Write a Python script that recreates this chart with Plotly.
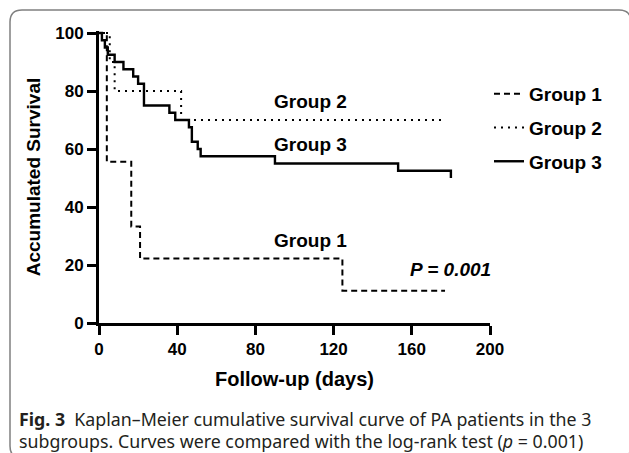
import plotly.graph_objects as go

# ---------------- data ----------------
g1_days = [0, 4, 16.5, 21, 124.5, 177]
g1_surv = [100, 55.6, 33.3, 22.2, 11.1, 11.1]

g2_days = [0, 5.5, 8, 42, 177]
g2_surv = [100, 90, 80, 70, 70]

g3_days = [0, 1.5, 3, 4.5, 8, 12.5, 17.5, 20, 23, 36, 39, 46, 47.5, 50.5, 52, 90, 153, 180]
g3_surv = [100, 97.5, 95, 92.5, 90, 87.5, 85, 82.5, 75, 72.5, 70, 67.5, 62.5, 60, 57.5, 55, 52.5, 50]

group_names = ["Group 1", "Group 2", "Group 3"]
x_ticks = [0, 40, 80, 120, 160, 200]
y_ticks = [0, 20, 40, 60, 80, 100]

caption_1 = "<b>Fig. 3</b>  Kaplan–Meier cumulative survival curve of PA patients in the 3"
caption_2 = "subgroups. Curves were compared with the log-rank test (<i>p</i> = 0.001)"

# ---------------- layout geometry ----------------
W, H = 629, 453
ML, MR, MT, MB = 99, 139, 31, 130
PW, PH = W - ML - MR, H - MT - MB
Y_TOP = PH / 2.9  # 2.9 px per survival unit

def px(xp):
    return (xp - ML) / PW

def py(yp):
    return (H - MB - yp) / PH

FONT = "Liberation Sans, Arial, sans-serif"

fig = go.Figure()
styles = [dict(dash="6px,4px", width=2), dict(dash="2px,5px", width=2), dict(dash="solid", width=2.4)]
for name, xs, ys, st, grp in zip(group_names, [g1_days, g2_days, g3_days],
                                 [g1_surv, g2_surv, g3_surv], styles, ["a", "b", "c"]):
    fig.add_trace(go.Scatter(x=xs, y=ys, mode="lines", name=name, legendgroup=grp,
                             line=dict(shape="hv", color="black", **st)))

# rounded frame
x0, y0, x1, y1, r = px(10), py(10), px(631), py(458), 12
rx, ry = r / PW, r / PH
path = (f"M{x0+rx},{y0} L{x1-rx},{y0} Q{x1},{y0} {x1},{y0-ry} "
        f"L{x1},{y1+ry} Q{x1},{y1} {x1-rx},{y1} L{x0+rx},{y1} Q{x0},{y1} {x0},{y1+ry} "
        f"L{x0},{y0-ry} Q{x0},{y0} {x0+rx},{y0} Z")
fig.add_shape(type="path", path=path, xref="paper", yref="paper",
              line=dict(color="#808080", width=1.5), layer="below")

ann_font = dict(family=FONT, size=19, color="black")
fig.add_annotation(x=108, y=76.5, text="<b>Group 2</b>", showarrow=False, font=ann_font)
fig.add_annotation(x=108, y=61.5, text="<b>Group 3</b>", showarrow=False, font=ann_font)
fig.add_annotation(x=108, y=28.5, text="<b>Group 1</b>", showarrow=False, font=ann_font)
fig.add_annotation(x=180, y=18.5, text="<b><i>P = 0.001</i></b>", showarrow=False, font=ann_font)

cap_font = dict(family="Noto Sans, Open Sans, sans-serif", size=17.8, color="#231f20")
fig.add_annotation(x=px(17), y=py(419), xref="paper", yref="paper", xanchor="left",
                   yanchor="middle", text=caption_1, showarrow=False, font=cap_font)
fig.add_annotation(x=px(17), y=py(441), xref="paper", yref="paper", xanchor="left",
                   yanchor="middle", text=caption_2, showarrow=False, font=cap_font)

axis_common = dict(showline=True, linewidth=3, linecolor="black", ticks="outside",
                   ticklen=9, tickwidth=3, tickcolor="black", showgrid=False, zeroline=False,
                   tickfont=dict(family=FONT, size=17, color="black"))

fig.update_xaxes(range=[0, 200], tickvals=x_ticks, ticktext=[f"<b>{v}</b>" for v in x_ticks],
                 title=dict(text="<b>Follow-up (days)</b>", font=dict(family=FONT, size=20, color="black"),
                            standoff=14), **axis_common)
fig.update_yaxes(range=[0, Y_TOP], tickvals=y_ticks, ticktext=[f"<b>{v}</b>" for v in y_ticks],
                 title=dict(text="<b>Accumulated Survival</b>", font=dict(family=FONT, size=19, color="black"),
                            standoff=10), **axis_common)

fig.update_layout(
    width=W, height=H, autosize=False,
    margin=dict(l=ML, r=MR, t=MT, b=MB, pad=0),
    plot_bgcolor="white", paper_bgcolor="white",
    showlegend=True,
    legend=dict(x=px(489), y=py(75), xanchor="left", yanchor="top",
                font=dict(family=FONT, size=19, color="black", weight="bold"),
                tracegroupgap=6, itemwidth=30, bgcolor="rgba(0,0,0,0)", borderwidth=0,
                traceorder="grouped"),
)

fig.write_html("out.html", config={"displayModeBar": False},
               post_script="document.body.style.margin='0';")
